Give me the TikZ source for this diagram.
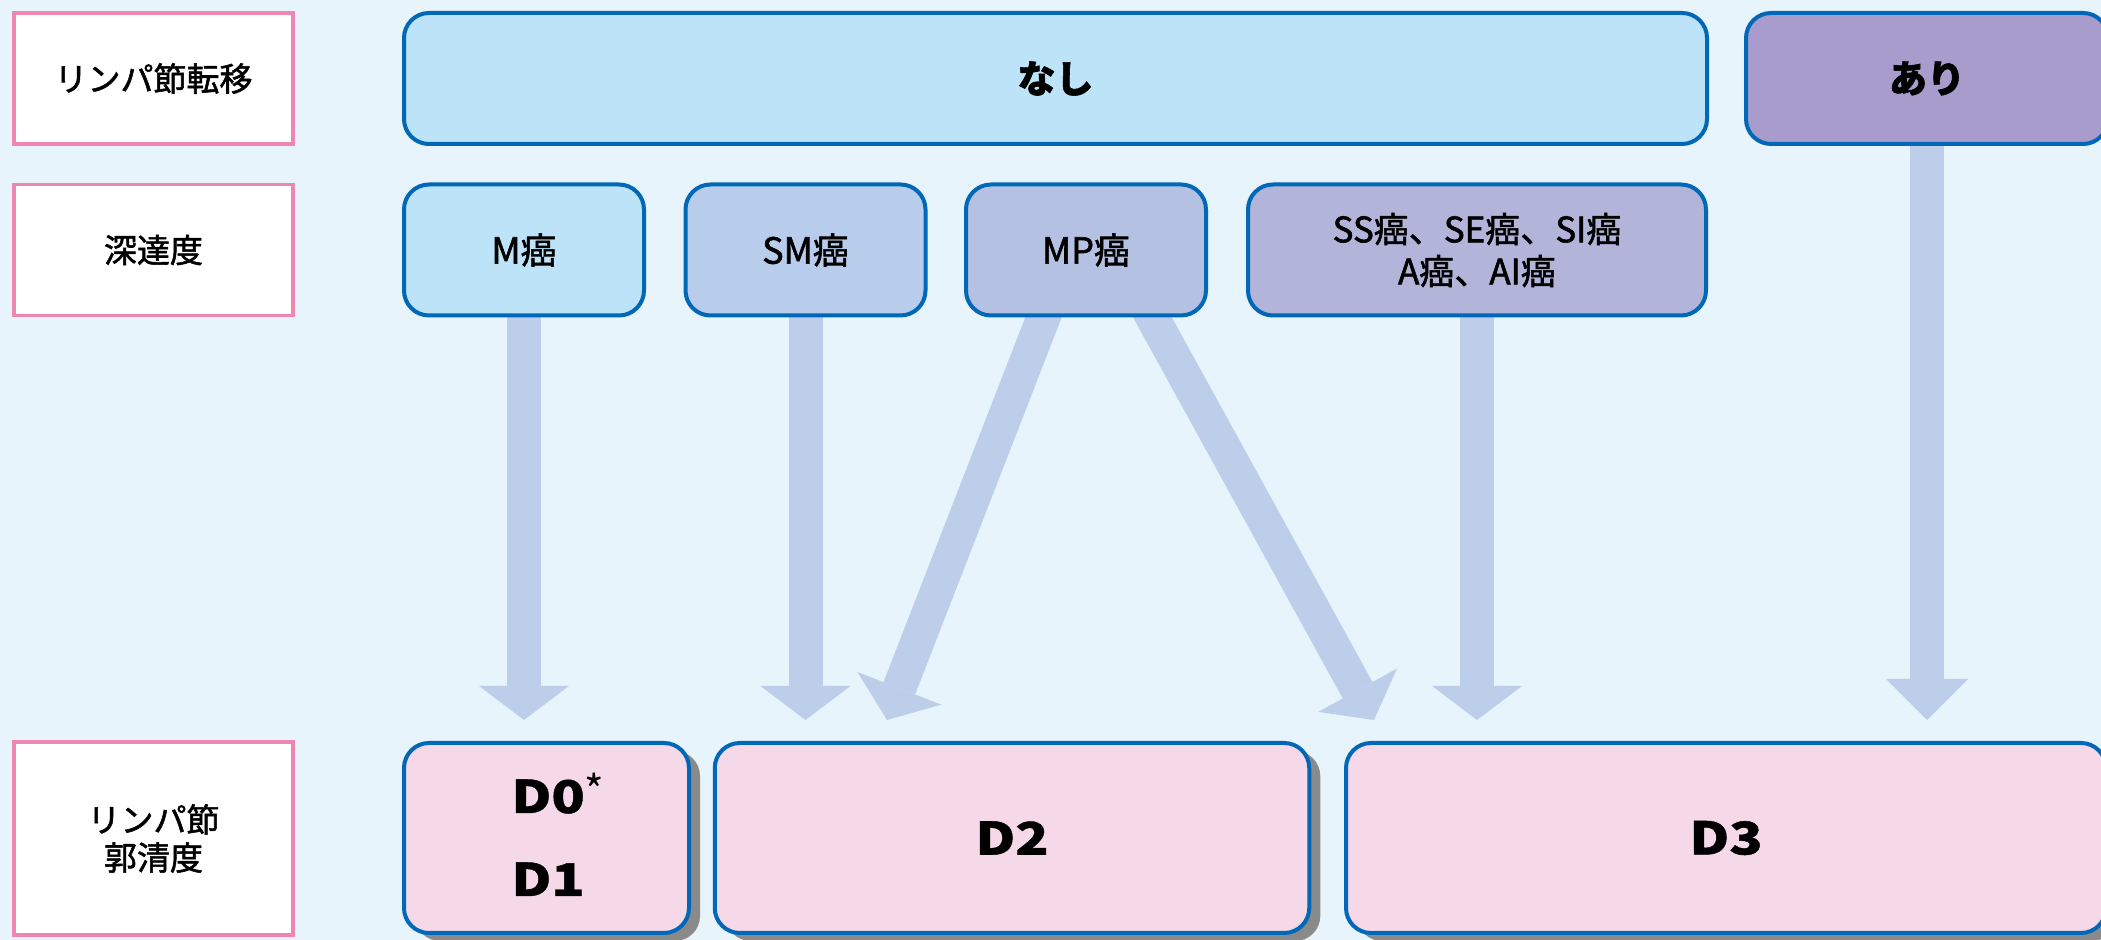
\documentclass[tikz,border=0pt]{standalone}
\usepackage{fontspec}
\setmainfont{Noto Sans CJK JP}
\newfontfamily\jpmed{Noto Sans CJK JP}[FakeBold=1.6]
\newfontfamily\jpheavy{Noto Sans CJK JP}[FakeBold=1.5]
\newfontfamily\jpwide{Noto Sans CJK JP}[FakeStretch=1.22,FakeBold=1]
\usetikzlibrary{arrows.meta,shadows,calc}
\definecolor{bgc}{RGB}{232,244,252}
\definecolor{blueb}{RGB}{0,104,183}
\definecolor{pinkb}{RGB}{238,134,178}
\definecolor{cA}{RGB}{188,227,247}
\definecolor{cB}{RGB}{184,205,236}
\definecolor{cC}{RGB}{181,193,226}
\definecolor{cD}{RGB}{178,180,218}
\definecolor{cE}{RGB}{167,156,204}
\definecolor{cpink}{RGB}{246,217,232}
\definecolor{arrc}{RGB}{189,206,234}
\definecolor{shadowc}{RGB}{138,138,138}
\pgfdeclarelayer{bg}
\pgfdeclarelayer{arr}
\pgfsetlayers{bg,arr,main}
\begin{document}
\begin{tikzpicture}[x=0.5pt,y=-0.5pt,
  lab/.style={draw=pinkb, line width=1.75pt, fill=white, minimum width=139.5pt,
    minimum height=65.5pt, inner sep=0pt, align=center,
    font=\jpmed\fontsize{16.5}{19}\selectfont},
  box/.style={draw=blueb, line width=2pt, rounded corners=12.5pt, inner sep=0pt,
    align=center, minimum height=65.5pt, minimum width=120pt,
    font=\jpmed\fontsize{18}{21}\selectfont},
  bigtext/.style={font=\jpheavy\fontsize{19}{21}\selectfont\bfseries},
  dbox/.style={draw=blueb, line width=2pt, rounded corners=12.5pt, inner sep=0pt,
    fill=cpink, minimum height=95pt,
    drop shadow={shadow xshift=5.5pt, shadow yshift=-4pt, fill=shadowc, opacity=1},
    font=\jpwide\fontsize{22.5}{24}\selectfont\bfseries},
  dtext/.style={inner sep=0pt, font=\jpwide\fontsize{22.5}{24}\selectfont\bfseries},
  fat/.style={draw=arrc, line width=17pt,
    -{Triangle[width=45pt,length=17pt,line width=0pt]}},
  fatb/.style={draw=arrc, line width=17pt,
    -{Triangle[width=41pt,length=20.5pt,line width=0pt]}}
]
\begin{pgfonlayer}{bg}
\fill[bgc] (0,0) rectangle (2101,940);
\end{pgfonlayer}
\useasboundingbox (0,0) rectangle (2101,940);

% row labels
\node[lab] (l1) at (153.5,78.5) {リンパ節転移};
\node[lab] (l2) at (153.5,250) {深達度};
\node[lab, minimum height=96.5pt] (l3) at (153.5,838.5) {リンパ節\\郭清度};

% top row
\node[box, fill=cA, minimum width=651.5pt, bigtext] (nashi) at (1055.5,78.5) {なし};
\node[box, fill=cE, minimum width=181pt, bigtext] (ari) at (1927,78.5) {あり};

% second row
\node[box, fill=cA] (m) at (524,250) {M癌};
\node[box, fill=cB] (sm) at (805.5,250) {SM癌};
\node[box, fill=cC] (mp) at (1086,250) {MP癌};
\node[box, fill=cD, minimum width=229pt, font=\jpmed\fontsize{17.5}{21}\selectfont] (ss) at (1477,250)
  {SS癌、SE癌、SI癌\\A癌、AI癌};

% bottom row
\node[dbox, minimum width=142.5pt] (d01) at (546.5,838) {};
\node[dbox, minimum width=297.25pt] (d2) at (1012,838) {D2};
\node[dbox, minimum width=380pt] (d3) at (1726,838) {D3};
\node[dtext, anchor=base west] (d0t) at (511,813)
  {D0\raisebox{3pt}{\setmainfont{Noto Sans CJK JP}\fontsize{21}{21}\selectfont\mdseries *}};
\node[dtext, anchor=base west] (d1t) at (511,896) {D1};

% arrow tips
\coordinate (tipy) at (0,720);
\coordinate (t3) at (887,720);
\coordinate (t4) at (1374,720);

\begin{pgfonlayer}{arr}
\draw[fat] (m.south) -- (m.south |- tipy);
\draw[fat] (sm.south) -- (sm.south |- tipy);
\draw[fat] ($(mp.south)+(-34.8,-20)$) -- (t3);
\draw[fat] ($(mp.south)+(55.5,-20)$) -- (t4);
\draw[fat] (ss.south) -- (ss.south |- tipy);
\draw[fatb] (ari.south) -- (ari.south |- tipy);
\end{pgfonlayer}
\end{tikzpicture}
\end{document}
